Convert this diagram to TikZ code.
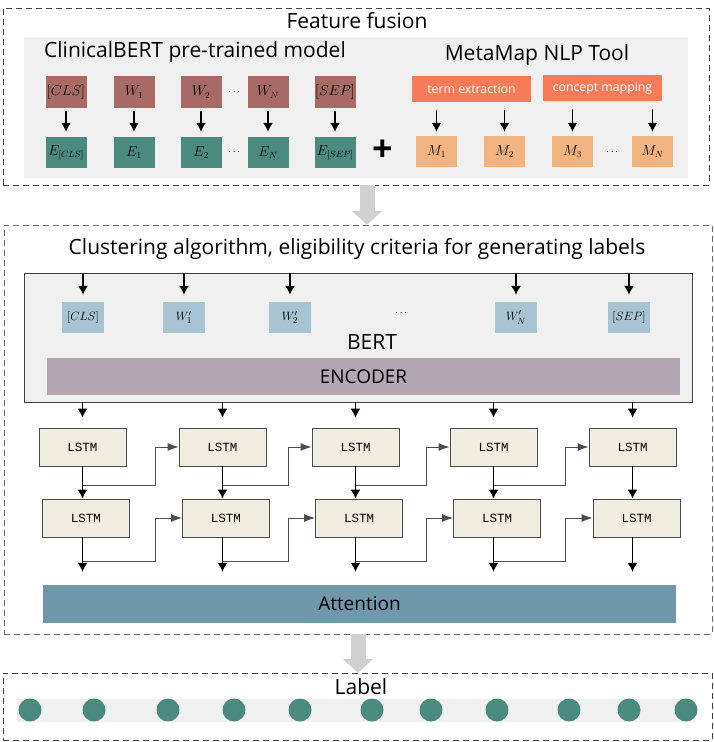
\documentclass[tikz,border=0pt]{standalone}
\usepackage{amsmath}
\usepackage{fontspec}
\setmainfont{Open Sans}
\newfontfamily\lstmfont{Liberation Mono}
\usepackage{tikz}
\usetikzlibrary{arrows.meta}

\definecolor{wred}{RGB}{168,106,100}
\definecolor{eteal}{RGB}{75,138,126}
\definecolor{torange}{RGB}{247,123,88}
\definecolor{morange}{RGB}{241,179,127}
\definecolor{bblue}{RGB}{168,195,209}
\definecolor{encmauve}{RGB}{180,167,180}
\definecolor{attblue}{RGB}{111,152,171}
\definecolor{lstmfill}{RGB}{240,238,224}
\definecolor{panelgray}{RGB}{240,240,240}

\tikzset{
	dbox/.style={draw=black!75,dashed,dash pattern=on 6pt off 4pt,inner sep=0},
	panel/.style={fill=panelgray,inner sep=0},
	title/.style={font=\fontsize{21}{24}\selectfont,inner sep=0},
	wbox/.style={fill=wred,minimum width=41pt,minimum height=32pt,inner sep=0,font=\fontsize{13.5}{15}\selectfont},
	ebox/.style={fill=eteal,minimum width=41pt,minimum height=31pt,inner sep=0,font=\fontsize{13.5}{15}\selectfont},
	tbox/.style={fill=torange,text=white,minimum width=119pt,minimum height=26pt,inner sep=0,font=\fontsize{12.3}{14}\selectfont},
	mbox/.style={fill=morange,minimum width=41pt,minimum height=31pt,inner sep=0,font=\fontsize{13.5}{15}\selectfont},
	bbox/.style={fill=bblue,minimum width=42pt,minimum height=31pt,inner sep=0,font=\fontsize{12.5}{14}\selectfont},
	lstm/.style={draw=black!70,fill=lstmfill,thick,minimum width=87pt,minimum height=38pt,inner sep=0,font=\lstmfont\fontsize{12.5}{14}\selectfont},
	bar/.style={minimum width=633pt,inner sep=0,font=\fontsize{19}{22}\selectfont},
	arr/.style={-{Latex[length=9pt,width=10pt]},line width=1.4pt},
	link/.style={-{Latex[length=11pt,width=8pt]},line width=1pt,draw=black!70},
	garrow/.style={line width=15pt,draw=black!18,-{Triangle[width=30pt,length=14pt]}},
	labdot/.style={circle,fill=eteal,minimum size=23pt,inner sep=0}
}

\begin{document}
\begin{tikzpicture}[x=1pt,y=-1pt]
		\useasboundingbox (0,0) rectangle (714,742);

		\node[dbox,minimum width=706pt,minimum height=177pt] (fusion) at (356,96.5) {};
		\node[panel,minimum width=664pt,minimum height=141pt] (fpanel) at (356,107.5) {};
		\node[title] (ftitle) at (357,21) {Feature fusion};
		\node[title] (cbert) at (195,52) {ClinicalBERT pre-trained model};
		\node[title] (mmap) at (537,55) {MetaMap NLP Tool};

		\node[wbox] (w0) at (66,92) {$[CLS]$};
		\node[wbox] (w1) at (134,92) {$W_1$};
		\node[wbox] (w2) at (201,92) {$W_2$};
		\node[wbox] (wn) at (268,92) {$W_N$};
		\node[wbox] (ws) at (335,92) {$[SEP]$};
		\node (wdots) at (235,92) {$\cdots$};

		\node[ebox] (e0) at (66,152.5) {$E_{[CLS]}$};
		\node[ebox] (e1) at (134,152.5) {$E_1$};
		\node[ebox] (e2) at (201,152.5) {$E_2$};
		\node[ebox] (en) at (268,152.5) {$E_N$};
		\node[ebox] (es) at (335,152.5) {$E_{[SEP]}$};
		\node (edots) at (235,152.5) {$\cdots$};

		\draw[arr] ([yshift=-3pt]w0.south) -- ([yshift=5pt]e0.north);
		\draw[arr] ([yshift=-3pt]w1.south) -- ([yshift=5pt]e1.north);
		\draw[arr] ([yshift=-3pt]w2.south) -- ([yshift=5pt]e2.north);
		\draw[arr] ([yshift=-3pt]wn.south) -- ([yshift=5pt]en.north);
		\draw[arr] ([yshift=-3pt]ws.south) -- ([yshift=5pt]es.north);

		\node[font=\fontsize{36}{36}\selectfont\bfseries,inner sep=0] (plus) at (383,151) {+};

		\node[tbox] (te) at (471.5,89) {term extraction};
		\node[tbox] (cm) at (602.5,88) {concept mapping};
		\node[mbox] (m1) at (436.5,151.5) {$M_1$};
		\node[mbox] (m2) at (504.5,151.5) {$M_2$};
		\node[mbox] (m3) at (572.5,151.5) {$M_3$};
		\node[mbox] (mn) at (652.5,151.5) {$M_N$};
		\node (mdots) at (613,152) {$\cdots$};

		\draw[arr] ([yshift=-8pt]m1.north |- te.south) -- ([yshift=4pt]m1.north);
		\draw[arr] ([yshift=-8pt]m2.north |- te.south) -- ([yshift=4pt]m2.north);
		\draw[arr] ([yshift=-8pt]m3.north |- cm.south) -- ([yshift=4pt]m3.north);
		\draw[arr] ([yshift=-8pt]mn.north |- cm.south) -- ([yshift=4pt]mn.north);

		\node[dbox,draw=black!60,minimum width=708pt,minimum height=409pt] (cluster) at (358,429.5) {};
		\draw[garrow] ([xshift=11pt]fusion.south) -- ([xshift=11pt]fusion.south |- cluster.north);
		\node[title] (ctitle) at (357,249) {Clustering algorithm, eligibility criteria for generating labels};

		\node[panel,draw=black!75,minimum width=668pt,minimum height=129pt] (bpanel) at (358,337.5) {};
		\node[bbox] (b0) at (83,317.5) {$[CLS]$};
		\node[bbox] (b1) at (184,317.5) {$W_1'$};
		\node[bbox] (b2) at (290,317.5) {$W_2'$};
		\node[bbox] (bn) at (516,317.5) {$W_N'$};
		\node[bbox] (bs) at (629,317.5) {$[SEP]$};
		\node (bdots) at (402,313) {$\cdots$};
		\node[title] (berttxt) at (372,342) {BERT};
		\node[bar,fill=encmauve,minimum height=37pt] (enc) at (363.5,376.5) {ENCODER};

		\draw[arr] (b0.north |- bpanel.north) -- ([yshift=7pt]b0.north);
		\draw[arr] (b1.north |- bpanel.north) -- ([yshift=7pt]b1.north);
		\draw[arr] (b2.north |- bpanel.north) -- ([yshift=7pt]b2.north);
		\draw[arr] (bn.north |- bpanel.north) -- ([yshift=7pt]bn.north);
		\draw[arr] (bs.north |- bpanel.north) -- ([yshift=7pt]bs.north);

		\node[lstm] (l11) at (82.5,447) {LSTM};
		\node[lstm] (l12) at (222.5,447) {LSTM};
		\node[lstm] (l13) at (355.5,447) {LSTM};
		\node[lstm] (l14) at (493.5,447) {LSTM};
		\node[lstm] (l15) at (632.5,447) {LSTM};
		\node[lstm] (l21) at (86,518) {LSTM};
		\node[lstm] (l22) at (226,518) {LSTM};
		\node[lstm] (l23) at (359,518) {LSTM};
		\node[lstm] (l24) at (497,518) {LSTM};
		\node[lstm] (l25) at (636.5,518) {LSTM};

		\node[bar,fill=attblue,minimum height=38pt] (att) at (359.5,604) {Attention};

		\draw[arr] (l11.north |- bpanel.south) -- ([yshift=10pt]l11.north);
		\draw[arr] (l12.north |- bpanel.south) -- ([yshift=10pt]l12.north);
		\draw[arr] (l13.north |- bpanel.south) -- ([yshift=10pt]l13.north);
		\draw[arr] (l14.north |- bpanel.south) -- ([yshift=10pt]l14.north);
		\draw[arr] (l15.north |- bpanel.south) -- ([yshift=10pt]l15.north);

		\draw[arr] (l11.south) -- (l11.south |- l21.north);
		\draw[arr] (l12.south) -- (l12.south |- l22.north);
		\draw[arr] (l13.south) -- (l13.south |- l23.north);
		\draw[arr] (l14.south) -- (l14.south |- l24.north);
		\draw[arr] (l15.south) -- (l15.south |- l25.north);

		\draw[link] (l11.south |- 0,485) -| ([xshift=-23pt]l12.west) -- (l12.west);
		\draw[link] (l12.south |- 0,485) -| ([xshift=-23pt]l13.west) -- (l13.west);
		\draw[link] (l13.south |- 0,485) -| ([xshift=-23pt]l14.west) -- (l14.west);
		\draw[link] (l14.south |- 0,485) -| ([xshift=-23pt]l15.west) -- (l15.west);

		\draw[arr] (l11.south |- l21.south) -- ([yshift=13pt]l11.south |- att.north);
		\draw[arr] (l12.south |- l22.south) -- ([yshift=13pt]l12.south |- att.north);
		\draw[arr] (l13.south |- l23.south) -- ([yshift=13pt]l13.south |- att.north);
		\draw[arr] (l14.south |- l24.south) -- ([yshift=13pt]l14.south |- att.north);
		\draw[arr] (l15.south |- l25.south) -- ([yshift=13pt]l15.south |- att.north);

		\draw[link] (l11.south |- 0,561) -| ([xshift=-23pt]l12.west |- l22.west) -- (l22.west);
		\draw[link] (l12.south |- 0,561) -| ([xshift=-23pt]l13.west |- l23.west) -- (l23.west);
		\draw[link] (l13.south |- 0,561) -| ([xshift=-23pt]l14.west |- l24.west) -- (l24.west);
		\draw[link] (l14.south |- 0,561) -| ([xshift=-23pt]l15.west |- l25.west) -- (l25.west);

		\node[dbox,minimum width=709pt,minimum height=67pt] (labbox) at (357.5,706.5) {};
		\draw[garrow] (cluster.south) -- (cluster.south |- labbox.north);
		\node[title] (labtxt) at (361,687) {Label};
		\node[panel,minimum width=679pt,minimum height=23pt] (strip) at (356.5,710.5) {};
		\node[labdot] (d1) at (30,710) {};
		\node[labdot] (d2) at (94,710) {};
		\node[labdot] (d3) at (168,710) {};
		\node[labdot] (d4) at (234,710) {};
		\node[labdot] (d5) at (300,710) {};
		\node[labdot] (d6) at (372,710) {};
		\node[labdot] (d7) at (431,710) {};
		\node[labdot] (d8) at (497,710) {};
		\node[labdot] (d9) at (569,710) {};
		\node[labdot] (d10) at (629,710) {};
		\node[labdot] (d11) at (686,710) {};
	\end{tikzpicture}
\end{document}
